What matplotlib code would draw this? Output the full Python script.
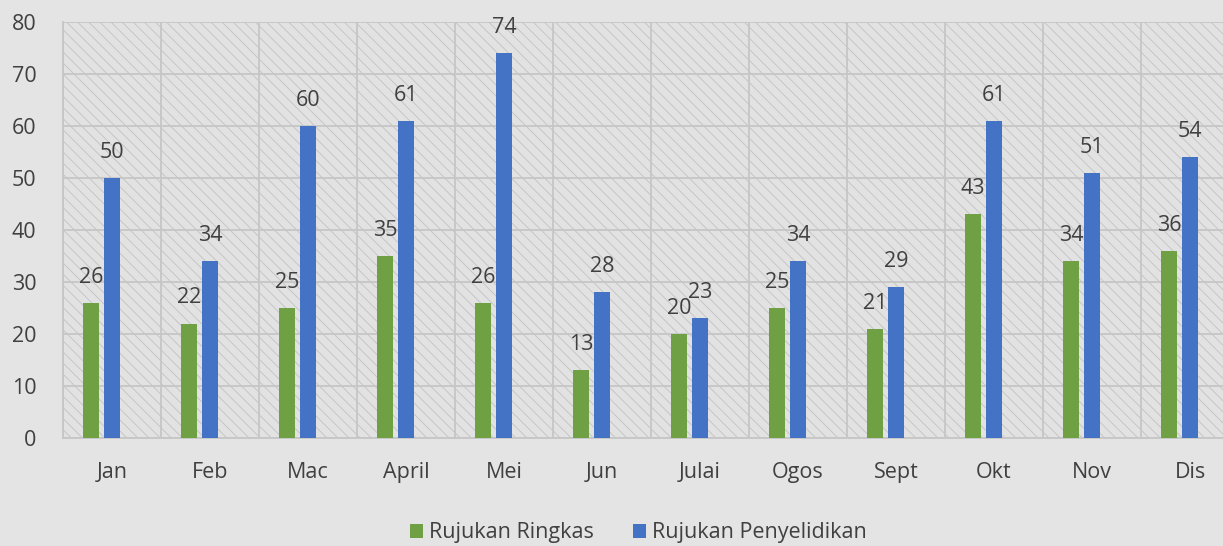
import matplotlib.pyplot as plt
import numpy as np

# data
bulan = ['Jan', 'Feb', 'Mac', 'April', 'Mei', 'Jun', 'Julai', 'Ogos', 'Sept', 'Okt', 'Nov', 'Dis']
ringkas = [26, 22, 25, 35, 26, 13, 20, 25, 21, 43, 34, 36]
penyelidikan = [50, 34, 60, 61, 74, 28, 23, 34, 29, 61, 51, 54]
yticks = [0, 10, 20, 30, 40, 50, 60, 70, 80]

c_green = '#6fa044'
c_blue = '#4472c4'
c_text = '#404040'
c_grid = '#c6c6c6'
fs = 15.5

plt.rcParams['font.family'] = ['Open Sans', 'DejaVu Sans']
plt.rcParams['hatch.linewidth'] = 0.6
plt.rcParams['hatch.color'] = '#c2c2c2'

fig = plt.figure(figsize=(12.23, 5.46), dpi=100)
fig.patch.set_facecolor('#e4e4e4')
ax = fig.add_axes([0.0515, 0.1978, 0.9616, 0.7619])
ax.set_facecolor('#e2e2e2')
ax.patch.set_hatch('\\\\\\')
ax.patch.set_edgecolor('#c2c2c2')

x = np.arange(len(bulan))
w = 0.155
step = 0.215
b1 = ax.bar(x - step, ringkas, w, color=c_green, label='Rujukan Ringkas', zorder=3)
b2 = ax.bar(x, penyelidikan, w, color=c_blue, label='Rujukan Penyelidikan', zorder=3)

for bars, vals in ((b1, ringkas), (b2, penyelidikan)):
    for r, v in zip(bars, vals):
        ax.annotate(str(v), (r.get_x() + r.get_width() / 2, v), xytext=(0, 18.5),
                    textcoords='offset points', ha='center', va='center',
                    fontsize=fs, color=c_text, zorder=4)

ax.set_xlim(-0.5, 11.5)
ax.set_ylim(0, 80)
ax.set_yticks(yticks)
ax.set_xticks(x)
ax.set_xticklabels(bulan)
ax.set_xticks(np.arange(-0.5, 12, 1), minor=True)
ax.tick_params(axis='both', which='both', length=0, labelsize=fs, labelcolor=c_text)
ax.tick_params(axis='y', pad=19)
ax.tick_params(axis='x', pad=17)

ax.grid(axis='y', color=c_grid, linewidth=1.3, zorder=1)
ax.grid(axis='x', which='minor', color=c_grid, linewidth=1.3, zorder=1)
ax.set_axisbelow(True)
for s in ['top', 'right']:
    ax.spines[s].set_visible(False)
for s in ['left', 'bottom']:
    ax.spines[s].set_color(c_grid)
    ax.spines[s].set_linewidth(1.3)

leg = fig.legend(handles=[b1, b2], loc='center', bbox_to_anchor=(0.522, 0.024), ncol=2,
                 frameon=False, fontsize=fs, handlelength=0.6, handleheight=0.6,
                 handletextpad=0.3, columnspacing=1.8)
for t in leg.get_texts():
    t.set_color(c_text)

fig.savefig('out.png', dpi=100, facecolor=fig.get_facecolor())
